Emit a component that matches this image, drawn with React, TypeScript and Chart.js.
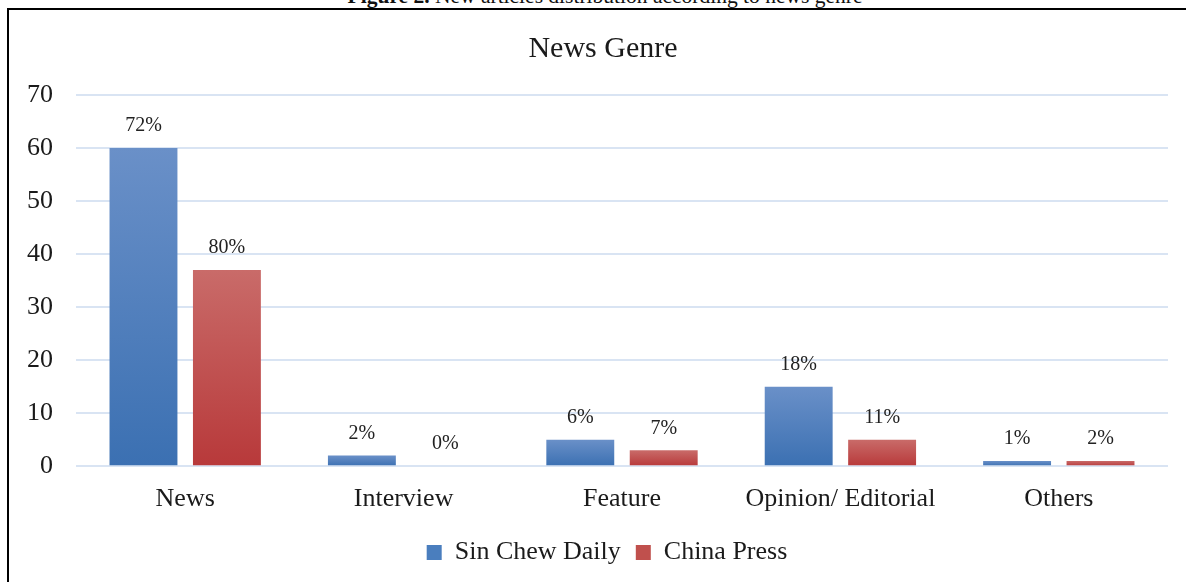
import React, { useEffect, useRef } from "react";
import { Chart, registerables } from "chart.js";

Chart.register(...registerables);

const categories = ["News", "Interview", "Feature", "Opinion/ Editorial", "Others"];
const sinChewValues = [60, 2, 5, 15, 1];
const chinaPressValues = [37, 0, 3, 5, 1];
const sinChewLabels = ["72%", "2%", "6%", "18%", "1%"];
const chinaPressLabels = ["80%", "0%", "7%", "11%", "2%"];
const seriesNames = ["Sin Chew Daily", "China Press"];
const yTicks = [0, 10, 20, 30, 40, 50, 60, 70];

const FONT = "'Liberation Serif', 'Times New Roman', serif";

function barGradient(ctx: any, top: string, bottom: string, solid: string) {
  const chart = ctx.chart;
  const y = chart.scales && chart.scales.y;
  if (!chart.chartArea || !y || ctx.raw === undefined) return solid;
  const y0 = y.getPixelForValue(0);
  const y1 = y.getPixelForValue(ctx.raw);
  if (!isFinite(y0) || !isFinite(y1) || Math.abs(y0 - y1) < 0.5) return solid;
  const g = chart.ctx.createLinearGradient(0, y1, 0, y0);
  g.addColorStop(0, top);
  g.addColorStop(1, bottom);
  return g;
}

const dataLabelPlugin = {
  id: "dataLabels",
  afterDatasetsDraw(chart: any) {
    const labelSets = [sinChewLabels, chinaPressLabels];
    const c = chart.ctx;
    c.save();
    c.font = `20px ${FONT}`;
    c.fillStyle = "#222";
    c.textAlign = "center";
    c.textBaseline = "middle";
    chart.data.datasets.forEach((_: any, di: number) => {
      const meta = chart.getDatasetMeta(di);
      meta.data.forEach((el: any, i: number) => {
        c.fillText(labelSets[di][i], el.x, el.y - 22);
      });
    });
    c.restore();
  },
};

const shiftPlugin = {
  id: "shiftBoxes",
  afterLayout(chart: any) {
    if (chart.legend) {
      chart.legend.left += 18;
      chart.legend.right += 18;
    }
    if (chart.titleBlock) {
      chart.titleBlock.left += 14;
      chart.titleBlock.right += 14;
    }
  },
};

export default function App() {
  const ref = useRef<HTMLCanvasElement | null>(null);

  useEffect(() => {
    document.body.style.margin = "0";
    if (!ref.current) return;
    const chart = new Chart(ref.current, {
      type: "bar",
      data: {
        labels: categories,
        datasets: [
          {
            label: seriesNames[0],
            data: sinChewValues,
            backgroundColor: (ctx: any) => barGradient(ctx, "#6A90C8", "#3B70B2", "#4A7EBE"),
            categoryPercentage: 0.764,
            barPercentage: 0.814,
          },
          {
            label: seriesNames[1],
            data: chinaPressValues,
            backgroundColor: (ctx: any) => barGradient(ctx, "#C96B69", "#B8393A", "#C0504D"),
            categoryPercentage: 0.764,
            barPercentage: 0.814,
          },
        ],
      },
      options: {
        animation: false,
        responsive: false,
        maintainAspectRatio: false,
        layout: { padding: { left: 10, right: 18, top: 0, bottom: 6.6 } },
        plugins: {
          title: {
            display: true,
            text: "News Genre",
            color: "#1a1a1a",
            font: { family: FONT, size: 30, weight: "normal" },
            padding: { top: 31, bottom: 28 },
          },
          legend: {
            position: "bottom",
            labels: {
              color: "#1a1a1a",
              font: { family: FONT, size: 26 },
              boxWidth: 15,
              boxHeight: 15,
              padding: 15,
              generateLabels: (chart: any) => {
                const cols = ["#4A7EBE", "#C0504D"];
                return chart.data.datasets.map((ds: any, i: number) => ({
                  text: ds.label,
                  fillStyle: cols[i],
                  strokeStyle: cols[i],
                  lineWidth: 0,
                  hidden: false,
                  datasetIndex: i,
                  fontColor: "#1a1a1a",
                }));
              },
            },
          },
          tooltip: { enabled: false },
        },
        scales: {
          x: {
            grid: { display: false },
            border: { display: false },
            afterFit: (scale: any) => {
              scale.height = 58.2;
            },
            ticks: {
              color: "#1a1a1a",
              font: { family: FONT, size: 26 },
              padding: 9,
            },
          },
          y: {
            min: 0,
            max: 70,
            afterBuildTicks: (scale: any) => {
              scale.ticks = yTicks.map((v) => ({ value: v }));
            },
            afterFit: (scale: any) => {
              scale.width = 66;
            },
            grid: { color: "#D9E4F3", lineWidth: 2, drawTicks: false },
            border: { display: false },
            ticks: {
              color: "#1a1a1a",
              font: { family: FONT, size: 26 },
              padding: 23,
            },
          },
        },
      },
      plugins: [dataLabelPlugin, shiftPlugin],
    });
    return () => chart.destroy();
  }, []);

  return (
    <div style={{ position: "fixed", left: 0, top: 0, width: 1186, height: 582, overflow: "hidden", background: "#fff" }}>
      <div
        style={{
          position: "absolute",
          left: 0,
          width: 1210,
          top: -14,
          textAlign: "center",
          fontFamily: FONT,
          fontSize: 21.5,
          lineHeight: "21.5px",
          color: "#111",
        }}
      >
        <b>Figure 2.</b> New articles distribution according to news genre
      </div>
      <div
        style={{
          position: "absolute",
          left: 7,
          top: 8,
          width: 1300,
          height: 700,
          borderTop: "2px solid #000",
          borderLeft: "2px solid #000",
        }}
      />
      <canvas ref={ref} width={1186} height={582} style={{ position: "absolute", left: 0, top: 0, width: 1186, height: 582 }} />
    </div>
  );
}
